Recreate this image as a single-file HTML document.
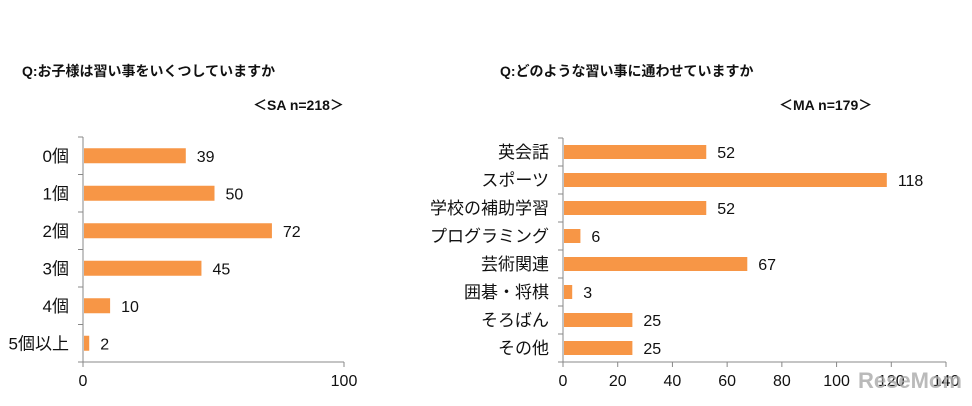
<!DOCTYPE html>
<html><head><meta charset="utf-8"><style>
body{margin:0;background:#fff;width:972px;height:401px;overflow:hidden}
svg text{font-family:"Liberation Sans","Noto Sans CJK JP",sans-serif;fill:#111}
</style></head><body>
<svg width="972" height="401">
<text x="22" y="76" font-size="14" font-weight="bold">Q:お子様は習い事をいくつしていますか</text>
<text x="253" y="110" font-size="14" font-weight="bold">＜SA n=218＞</text>
<text x="500" y="76" font-size="14" font-weight="bold">Q:どのような習い事に通わせていますか</text>
<text x="779" y="110" font-size="14" font-weight="bold">＜MA n=179＞</text>
<g id="left"></g>
<g id="right"></g>
<text x="858" y="388" font-size="22" font-weight="bold" style="fill:#aaa;opacity:0.8">ReseMom</text>
</svg>
<script>
const leftCats=["0個","1個","2個","3個","4個","5個以上"];
const leftVals=[39,50,72,45,10,2];
const leftTicks=[0,100];
const rightCats=["英会話","スポーツ","学校の補助学習","プログラミング","芸術関連","囲碁・将棋","そろばん","その他"];
const rightVals=[52,118,52,6,67,3,25,25];
const rightTicks=[0,20,40,60,80,100,120,140];
const NS="http://www.w3.org/2000/svg";
function mk(p,t,a){const e=document.createElementNS(NS,t);for(const k in a)e.setAttribute(k,a[k]);p.appendChild(e);return e;}
function draw(g,cats,vals,ticks,x0,x1,y0,y1,barH,labRight,pfx){
  const max=ticks[ticks.length-1];
  const xs=v=>x0+(x1-x0)*v/max;
  const band=(y1-y0)/cats.length;
  const ax=mk(g,'line',{x1:x0,y1:y0,x2:x0,y2:y1,stroke:'#888','stroke-width':1});
  
  
  const bx=mk(g,'line',{x1:x0,y1:y1,x2:x1,y2:y1,stroke:'#888','stroke-width':1});
  
  
  for(let i=0;i<=cats.length;i++){const t=mk(g,'line',{x1:x0-5,y1:y0+i*band,x2:x0,y2:y0+i*band,stroke:'#888'});
    
    }
  ticks.forEach(v=>{
    const t=mk(g,'line',{x1:xs(v),y1:y1,x2:xs(v),y2:y1+5,stroke:'#888'});
    
    
    const l=mk(g,'text',{x:xs(v),y:y1+24,'font-size':16,'text-anchor':'middle'});l.textContent=v;
    
    
  });
  cats.forEach((c,i)=>{
    const cy=y0+band*(i+0.5);
    const r=mk(g,'rect',{x:x0+1,y:cy-barH/2,width:xs(vals[i])-x0,height:barH,fill:'#F79646'});
    
    
    const v=mk(g,'text',{x:xs(vals[i])+12,y:cy+6,'font-size':16});v.textContent=vals[i];
    
    
    const l=mk(g,'text',{x:labRight,y:cy+6,'font-size':17,'text-anchor':'end'});l.textContent=c;
    
    
  });
}
draw(document.getElementById('left'),leftCats,leftVals,leftTicks,83,344,137,362,15,69,'left');
draw(document.getElementById('right'),rightCats,rightVals,rightTicks,563,946,138,362,14,549,'right');
</script>
</body></html>
